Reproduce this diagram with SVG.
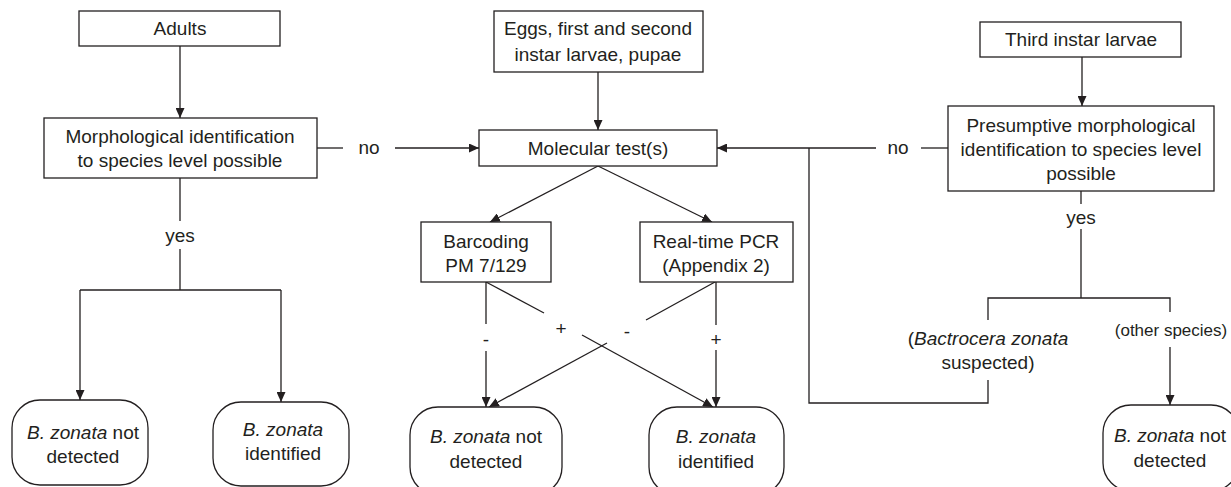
<svg xmlns="http://www.w3.org/2000/svg" width="1231" height="487" viewBox="0 0 1231 487">
<style>
  .box{fill:#fff;stroke:#231f20;stroke-width:1.3}
  .rbox{fill:#fff;stroke:#231f20;stroke-width:1.3}
  .ln{fill:none;stroke:#231f20;stroke-width:1.3}
  text{font-family:"Liberation Sans",Arial,sans-serif;font-size:19px;fill:#231f20;text-anchor:middle}
  .it{font-style:italic}
  .sm{font-size:17px}
</style>
<defs>
  <marker id="arr" markerUnits="userSpaceOnUse" markerWidth="10" markerHeight="9" refX="10" refY="4.5" orient="auto">
    <path d="M0,0 L10,4.5 L0,9 z" fill="#231f20"/>
  </marker>
</defs>
<rect width="1231" height="487" fill="#fff"/>
<g id="connectors">
  <line class="ln" x1="180" y1="46" x2="180" y2="118" marker-end="url(#arr)"/>
  <line class="ln" x1="317" y1="148" x2="343" y2="148"/>
  <text x="369" y="154">no</text>
  <line class="ln" x1="395" y1="148" x2="479" y2="148" marker-end="url(#arr)"/>
  <line class="ln" x1="180" y1="178" x2="180" y2="221"/>
  <text x="180" y="242">yes</text>
  <polyline class="ln" points="180,249 180,290"/>
  <polyline class="ln" points="80,290 281,290"/>
  <line class="ln" x1="80" y1="290" x2="80" y2="400" marker-end="url(#arr)"/>
  <line class="ln" x1="281" y1="290" x2="281" y2="402" marker-end="url(#arr)"/>
  <line class="ln" x1="598" y1="72" x2="598" y2="130" marker-end="url(#arr)"/>
  <line class="ln" x1="598" y1="166" x2="490" y2="222" marker-end="url(#arr)"/>
  <line class="ln" x1="598" y1="166" x2="712" y2="222" marker-end="url(#arr)"/>
  <line class="ln" x1="486" y1="282" x2="486" y2="324"/>
  <text x="486" y="346">-</text>
  <line class="ln" x1="486" y1="351" x2="486" y2="407" marker-end="url(#arr)"/>
  <line class="ln" x1="486" y1="282" x2="544" y2="313"/>
  <text x="561" y="335">+</text>
  <line class="ln" x1="582" y1="335" x2="713" y2="407" marker-end="url(#arr)"/>
  <line class="ln" x1="716" y1="282" x2="716" y2="325"/>
  <text x="716" y="346">+</text>
  <line class="ln" x1="716" y1="350" x2="716" y2="407" marker-end="url(#arr)"/>
  <line class="ln" x1="715" y1="282" x2="646" y2="320"/>
  <text x="627" y="338">-</text>
  <line class="ln" x1="607" y1="343" x2="489" y2="407" marker-end="url(#arr)"/>
  <line class="ln" x1="1082" y1="57" x2="1082" y2="106" marker-end="url(#arr)"/>
  <line class="ln" x1="948" y1="148" x2="921" y2="148"/>
  <text x="898" y="154">no</text>
  <line class="ln" x1="876" y1="148" x2="717" y2="148" marker-end="url(#arr)"/>
  <polyline class="ln" points="809,148 809,403 988,403 988,380"/>
  <line class="ln" x1="1081" y1="191" x2="1081" y2="204"/>
  <text x="1081" y="224">yes</text>
  <line class="ln" x1="1081" y1="229" x2="1081" y2="298"/>
  <polyline class="ln" points="988,320 988,298 1170,298 1170,312"/>
  <text x="988" y="345">(<tspan class="it">Bactrocera zonata</tspan></text>
  <text x="988" y="369">suspected)</text>
  <text x="1171" y="336" class="sm">(other species)</text>
  <line class="ln" x1="1170" y1="347" x2="1170" y2="405" marker-end="url(#arr)"/>
</g>
<g id="adults">
  <rect class="box" x="79" y="11" width="201" height="35"/>
  <text x="180" y="35">Adults</text>
</g>
<g id="morph">
  <rect class="box" x="44" y="118" width="273" height="60"/>
  <text x="180" y="143">Morphological identification</text>
  <text x="180" y="167">to species level possible</text>
</g>
<g id="eggs">
  <rect class="box" x="494" y="11" width="209" height="61"/>
  <text x="598" y="35">Eggs, first and second</text>
  <text x="598" y="61">instar larvae, pupae</text>
</g>
<g id="molecular">
  <rect class="box" x="479" y="130" width="238" height="36"/>
  <text x="598" y="155">Molecular test(s)</text>
</g>
<g id="third">
  <rect class="box" x="980" y="22" width="201" height="35"/>
  <text x="1081" y="46">Third instar larvae</text>
</g>
<g id="presumptive">
  <rect class="box" x="948" y="106" width="266" height="85"/>
  <text x="1081" y="132">Presumptive morphological</text>
  <text x="1081" y="156">identification to species level</text>
  <text x="1081" y="180">possible</text>
</g>
<g id="barcoding">
  <rect class="box" x="421" y="222" width="130" height="60"/>
  <text x="486" y="248">Barcoding</text>
  <text x="486" y="272">PM 7/129</text>
</g>
<g id="realtime">
  <rect class="box" x="640" y="222" width="153" height="60"/>
  <text x="716" y="248">Real-time PCR</text>
  <text x="716" y="272">(Appendix 2)</text>
</g>
<g id="adult-notdetected">
  <rect class="rbox" x="12" y="400" width="136" height="85" rx="28" ry="28"/>
  <text x="83" y="439"><tspan class="it">B. zonata</tspan> not</text>
  <text x="83" y="463">detected</text>
</g>
<g id="adult-identified">
  <rect class="rbox" x="213" y="402" width="136" height="84" rx="28" ry="28"/>
  <text x="283" y="436" class="it">B. zonata</text>
  <text x="283" y="460">identified</text>
</g>
<g id="mol-notdetected">
  <rect class="rbox" x="410" y="407" width="152" height="88" rx="28" ry="28"/>
  <text x="486" y="443"><tspan class="it">B. zonata</tspan> not</text>
  <text x="486" y="468">detected</text>
</g>
<g id="mol-identified">
  <rect class="rbox" x="649" y="407" width="135" height="88" rx="28" ry="28"/>
  <text x="716" y="443" class="it">B. zonata</text>
  <text x="716" y="468">identified</text>
</g>
<g id="larvae-notdetected">
  <rect class="rbox" x="1103" y="405" width="136" height="86" rx="28" ry="28"/>
  <text x="1170" y="442"><tspan class="it">B. zonata</tspan> not</text>
  <text x="1170" y="467">detected</text>
</g>
</svg>
